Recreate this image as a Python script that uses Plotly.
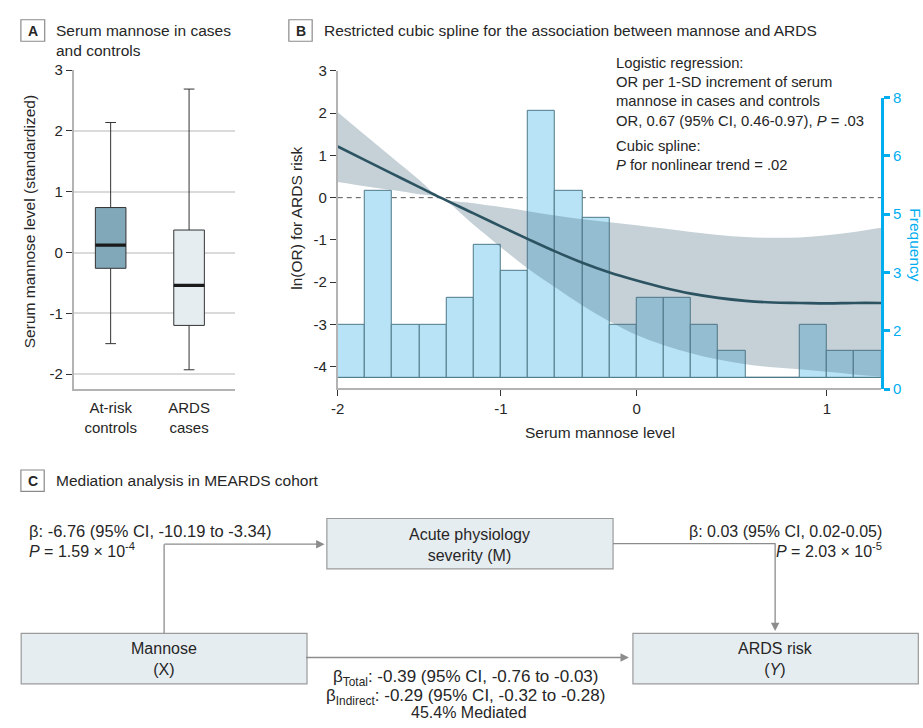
import numpy as np
import plotly.graph_objects as go

W, H = 923, 728
def fx(p): return p / W
def fy(p): return 1 - p / H

FONT = "Liberation Sans, Arial, sans-serif"
TXT = "#262626"
AXC = "#b3b3b3"
CYAN = "#00aeef"

# ---------------- Panel A data ----------------
groups = ["At-risk<br>controls", "ARDS<br>cases"]
box_q1 = [-0.26, -1.20]
box_median = [0.12, -0.54]
box_q3 = [0.74, 0.37]
box_low = [-1.50, -1.93]
box_high = [2.14, 2.69]
box_fill = ["#80a8b8", "#e5edf1"]
a_tickvals = [-2, -1, 0, 1, 2, 3]
a_ticktext = ["-2", "-1", "0", "1", "2", "3"]

# ---------------- Panel B data ----------------
hist_left_edge = -2.0
hist_bin = 1 / 6
hist_counts = [2, 7, 2, 2, 3, 5, 4, 10, 7, 6, 2, 3, 3, 2, 1, 0, 0, 2, 1, 1]

spline_x = [-2.0, -1.833, -1.667, -1.5, -1.37, -1.167, -1.0, -0.833, -0.667, -0.5,
            -0.333, -0.167, 0.0, 0.167, 0.333, 0.5, 0.667, 0.833, 1.0, 1.167, 1.333]
spline_fit = [1.21, 0.89, 0.57, 0.25, 0.0, -0.37, -0.68, -0.98, -1.27, -1.54,
              -1.77, -1.96, -2.13, -2.27, -2.37, -2.44, -2.48, -2.49, -2.50, -2.49, -2.49]
spline_upper = [2.02, 1.48, 0.95, 0.42, 0.0, -0.13, -0.22, -0.32, -0.42, -0.51,
                -0.58, -0.65, -0.73, -0.81, -0.88, -0.93, -0.95, -0.94, -0.89, -0.81, -0.71]
spline_lower = [0.37, 0.27, 0.18, 0.08, 0.0, -0.64, -1.17, -1.68, -2.12, -2.55,
                -2.93, -3.25, -3.49, -3.68, -3.83, -3.94, -4.01, -4.06, -4.12, -4.18, -4.23]

b_x_tickvals = [-2, -1, -1 / 6, 1]     # tick "0" sits where the original figure places it
b_x_ticktext = ["-2", "-1", "0", "1"]
b_y_tickvals = [-4, -3, -2, -1, 0, 1, 2, 3]
b_y_ticktext = ["-4", "-3", "-2", "-1", "0", "1", "2", "3"]

hist_centers = hist_left_edge + hist_bin * (np.arange(len(hist_counts)) + 0.5)
x_max = hist_left_edge + hist_bin * len(hist_counts)

fig = go.Figure()

# ---- Panel A: boxes ----
for i in range(len(groups)):
    fig.add_trace(go.Box(
        x=[i], q1=[box_q1[i]], median=[box_median[i]], q3=[box_q3[i]],
        lowerfence=[box_low[i]], upperfence=[box_high[i]],
        width=0.39, whiskerwidth=0.35, fillcolor=box_fill[i],
        line=dict(color="#333333", width=1), boxpoints=False,
        xaxis="x4", yaxis="y4", hoverinfo="skip"))
    fig.add_trace(go.Scatter(
        x=[i - 0.195, i + 0.195], y=[box_median[i], box_median[i]], mode="lines",
        line=dict(color="#1a1a1a", width=3.2), xaxis="x4", yaxis="y4", hoverinfo="skip"))

# ---- Panel B: histogram (base subplot, hidden axis) ----
fig.add_trace(go.Bar(
    x=hist_centers, y=hist_counts, width=hist_bin,
    marker=dict(color="#b8e3f6", line=dict(color="#4d7a88", width=1)),
    xaxis="x", yaxis="y", hoverinfo="skip"))

# ---- Panel B: spline CI band + fit (overlaying axis) ----
fig.add_trace(go.Scatter(
    x=spline_x, y=spline_lower, mode="lines", line=dict(width=0, shape="spline"),
    xaxis="x", yaxis="y5", hoverinfo="skip"))
fig.add_trace(go.Scatter(
    x=spline_x, y=spline_upper, mode="lines", line=dict(width=0, shape="spline"),
    fill="tonexty", fillcolor="rgba(74,108,130,0.32)",
    xaxis="x", yaxis="y5", hoverinfo="skip"))
fig.add_trace(go.Scatter(
    x=spline_x, y=spline_fit, mode="lines", line=dict(color="#2c5361", width=2.6, shape="spline"),
    xaxis="x", yaxis="y5", hoverinfo="skip"))

# invisible trace to display the frequency axis
fig.add_trace(go.Scatter(x=[0], y=[0], mode="markers", marker=dict(opacity=0),
                         xaxis="x3", yaxis="y2", hoverinfo="skip"))

tickfont = dict(family=FONT, size=15, color=TXT)

bx0, bx1 = 333.3, 881
by_bot, by_top = 388, 63.3

fig.update_layout(
    width=W, height=H, margin=dict(l=0, r=0, t=0, b=0),
    paper_bgcolor="white", plot_bgcolor="rgba(0,0,0,0)", showlegend=False,
    font=dict(family=FONT, size=15, color=TXT),
    bargap=0,
    # Panel B main x
    xaxis=dict(domain=[fx(bx0), fx(bx1)], range=[hist_left_edge, x_max], anchor="y",
               showline=True, linecolor=AXC, linewidth=2, ticks="outside", ticklen=6,
               tickcolor="#333", tickwidth=1, tickvals=b_x_tickvals, ticktext=b_x_ticktext,
               tickfont=tickfont, showgrid=False, zeroline=False, fixedrange=True),
    # histogram count axis (hidden)
    yaxis=dict(domain=[fy(by_bot), fy(by_top)], range=[-0.377, 11.51], anchor="x",
               showticklabels=False, ticks="", showline=False, showgrid=False,
               zeroline=True, zerolinecolor="#4d7a88", zerolinewidth=1),
    # ln(OR) axis
    yaxis5=dict(overlaying="y", range=[-4.5, 3], anchor="x", side="left",
                showline=True, linecolor=AXC, linewidth=2, ticks="outside", ticklen=6,
                tickcolor="#333", tickvals=b_y_tickvals, ticktext=b_y_ticktext,
                tickfont=tickfont, showgrid=False, zeroline=False),
    # frequency axis
    xaxis3=dict(domain=[fx(bx0), fx(bx1)], range=[hist_left_edge, x_max], anchor="y2",
                visible=False),
    yaxis2=dict(domain=[fy(389.3), fy(90.7)], range=[0, 8], anchor="x3", side="right",
                showline=True, linecolor=CYAN, linewidth=2.5, ticks="outside", ticklen=6,
                tickwidth=2.5, tickcolor=CYAN, tick0=0, dtick=1.6, tickformat=".0f",
                tickfont=dict(family=FONT, size=15, color=CYAN), showgrid=False, zeroline=False),
    # Panel A
    xaxis4=dict(domain=[fx(67.3), fx(229.3)], range=[-0.47, 1.58], anchor="y4",
                tickvals=list(range(len(groups))), ticktext=groups, tickfont=tickfont,
                showline=True, linecolor=AXC, linewidth=2, ticks="", showgrid=False,
                zeroline=False, ticklabelstandoff=4),
    yaxis4=dict(domain=[fy(389.3), fy(62.7)], range=[-2.25, 3], anchor="x4",
                tickvals=a_tickvals, ticktext=a_ticktext, tickfont=tickfont,
                showline=True, linecolor=AXC, linewidth=2, ticks="outside", ticklen=6,
                tickcolor="#333", showgrid=True, gridcolor="#dadada", gridwidth=2,
                zeroline=False),
)

shapes = []
annotations = []

def ann(x, y, text, size=15, xanchor="left", yanchor="middle", color=TXT, align="left", **kw):
    annotations.append(dict(x=fx(x), y=fy(y), xref="paper", yref="paper", text=text,
                            showarrow=False, xanchor=xanchor, yanchor=yanchor, align=align,
                            font=dict(family=FONT, size=size, color=color), **kw))

def rect(x0, y0, x1, y1, fill="rgba(0,0,0,0)", line="#8a8a8a", width=1.2):
    shapes.append(dict(type="rect", xref="paper", yref="paper", x0=fx(x0), x1=fx(x1),
                       y0=fy(y1), y1=fy(y0), fillcolor=fill, line=dict(color=line, width=width),
                       layer="above"))

def seg(x0, y0, x1, y1, color="#8c8c8c", width=1.3):
    shapes.append(dict(type="line", xref="paper", yref="paper", x0=fx(x0), x1=fx(x1),
                       y0=fy(y0), y1=fy(y1), line=dict(color=color, width=width)))

def arrow(tx, ty, hx, hy, color="#8c8c8c"):
    annotations.append(dict(x=fx(hx), y=fy(hy), xref="paper", yref="paper",
                            ax=tx - hx, ay=ty - hy, axref="pixel", ayref="pixel",
                            text="", showarrow=True, arrowhead=2, arrowsize=1.3,
                            arrowwidth=1.3, arrowcolor=color, standoff=0))

# dashed zero reference line in panel B
shapes.append(dict(type="line", xref="x", yref="y5", x0=hist_left_edge, x1=x_max, y0=0, y1=0,
                   line=dict(color="#555", width=1, dash="5px,4px"), layer="below"))

# panel letters
for (x0, y0, x1, y1, L) in [(14, 11, 38, 33, "A"), (284, 11, 307.5, 33, "B"), (14, 472, 37.5, 494, "C")]:
    rect(x0, y0, x1, y1)
    ann((x0 + x1) / 2, (y0 + y1) / 2 + 0.5, "<b>%s</b>" % L, size=14, xanchor="center")

ann(47, 32, "Serum mannose in cases<br>and controls", size=15.5)
ann(317, 22, "Restricted cubic spline for the association between mannose and ARDS", size=15.5)
ann(47, 483, "Mediation analysis in MEARDS cohort", size=15.5)

# axis titles
ann(23.5, 218, "Serum mannose level (standardized)", size=15.5, xanchor="center", textangle=-90)
ann(291, 214, "ln(OR) for ARDS risk", size=15.5, xanchor="center", textangle=-90)
ann(598, 434, "Serum mannose level", size=15.5, xanchor="center")
ann(916, 241, "Frequency", size=15.5, xanchor="center", color=CYAN, textangle=90)

# panel B text
ann(612, 45, "Logistic regression:<br>OR per 1-SD increment of serum<br>mannose in cases and controls"
             "<br>OR, 0.67 (95% CI, 0.46-0.97), <i>P</i> = .03", size=14.8, yanchor="top")
ann(612, 130, "Cubic spline:<br><i>P</i> for nonlinear trend = .02", size=14.8, yanchor="top")

# ---- Panel C diagram ----
BOXF = "#e6edf1"
rect(322.3, 521.7, 610.7, 573.3, fill=BOXF, line="#9a9a9a")
rect(14.3, 639.3, 302.3, 691, fill=BOXF, line="#9a9a9a")
rect(630.7, 639.3, 918.3, 691, fill=BOXF, line="#9a9a9a")
ann(466.5, 549, "Acute physiology<br>severity (M)", size=16, xanchor="center", align="center")
ann(158.3, 666, "Mannose<br>(X)", size=16, xanchor="center", align="center")
ann(774.5, 666, "ARDS risk<br>(<i>Y</i>)", size=16, xanchor="center", align="center")

seg(158.3, 639.3, 158.3, 548)
arrow(158.3, 548, 320, 548)
seg(610.7, 547.5, 774, 547.5)
arrow(774, 547.5, 774, 637)
arrow(302.3, 664, 626.7, 664)

ann(20, 534, "β: -6.76 (95% CI, -10.19 to -3.34)", size=16.5)
ann(20, 554, "<i>P</i> = 1.59 × 10<sup>-4</sup>", size=16)
ann(884, 535, "β: 0.03 (95% CI, 0.02-0.05)", size=16, xanchor="right", align="right")
ann(884, 554, "<i>P</i> = 2.03 × 10<sup>-5</sup>", size=16, xanchor="right", align="right")
ann(462, 685, "β<sub>Total</sub>: -0.39 (95% CI, -0.76 to -0.03)", size=17, xanchor="center")
ann(462, 704, "β<sub>Indirect</sub>: -0.29 (95% CI, -0.32 to -0.28)", size=17, xanchor="center")
ann(466, 720, "45.4% Mediated", size=16, xanchor="center")

fig.update_layout(shapes=shapes, annotations=annotations)
fig.write_html("out.html",
               post_script="document.body.style.margin='0';document.body.style.padding='0';"
                           "document.body.style.overflow='hidden';")
